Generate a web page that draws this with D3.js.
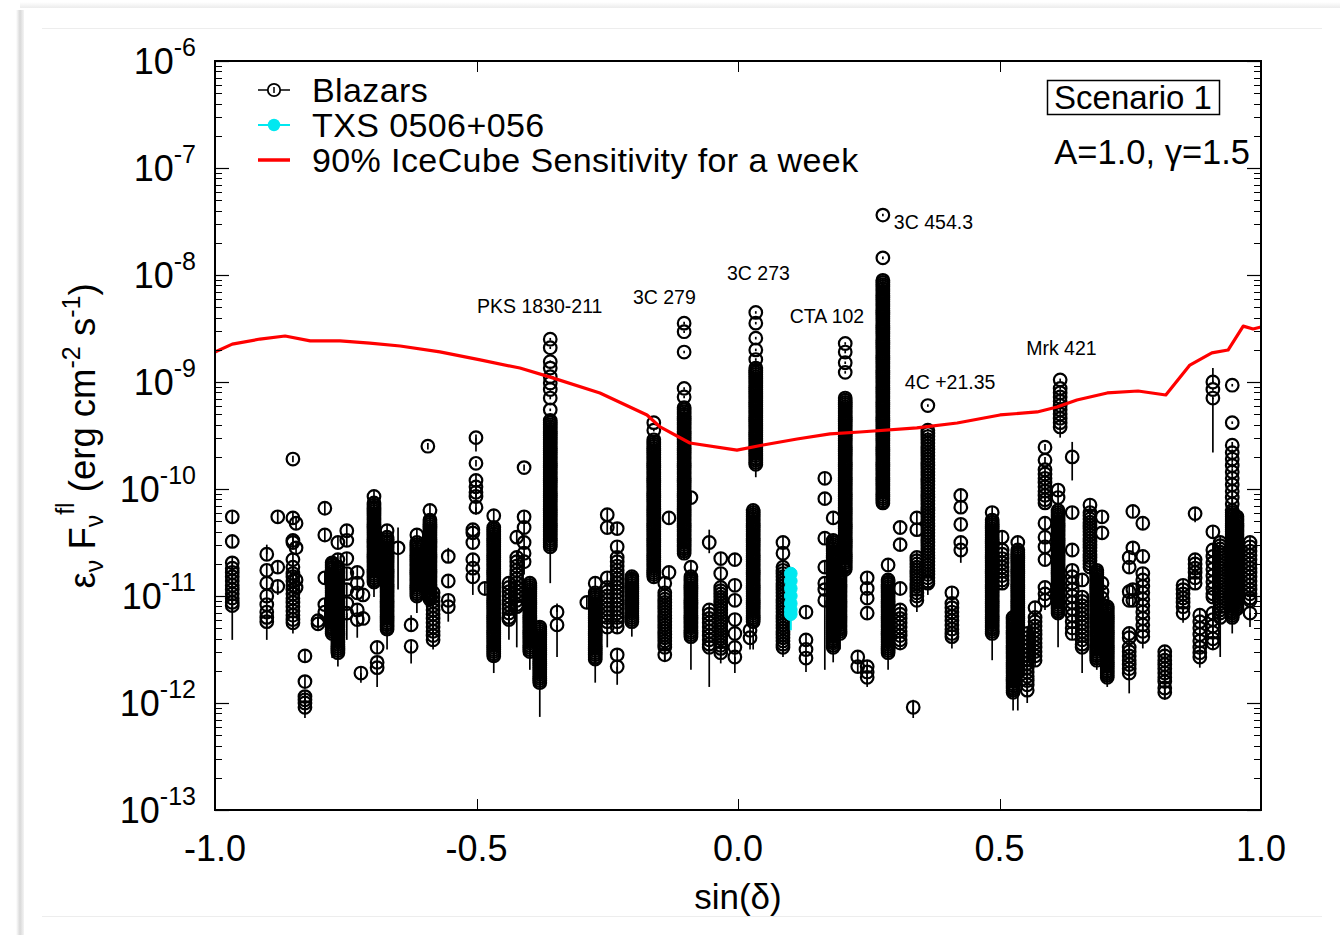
<!DOCTYPE html>
<html><head><meta charset="utf-8">
<script src="https://cdn.jsdelivr.net/npm/d3@7"></script>
<style>
body{margin:0;background:#fff}
text{font-family:"Liberation Sans",Arial,Helvetica,sans-serif;fill:#000}
</style>
</head><body><svg id="chart" width="1340" height="935"></svg>
<script>
// ---------------- DATA ----------------
// sin(declination) of each blazar column
const sinDelta = [
 -0.967,-0.901,-0.880,-0.851,-0.845,-0.828,-0.803,-0.790,-0.776,-0.765,
 -0.748,-0.728,-0.717,-0.721,-0.696,-0.690,-0.671,-0.650,-0.625,-0.614,
 -0.593,-0.589,-0.583,-0.554,-0.501,-0.507,-0.484,-0.467,-0.438,-0.423,
 -0.409,-0.398,-0.379,-0.359,-0.346,-0.289,-0.273,-0.250,-0.231,-0.203,
 -0.161,-0.140,-0.132,-0.103,-0.090,-0.055,-0.055,-0.033,-0.006, 0.023,
  0.034, 0.029, 0.086, 0.130, 0.166, 0.182, 0.205, 0.195, 0.229, 0.247,
  0.277, 0.287, 0.310, 0.342, 0.363, 0.335, 0.409, 0.426, 0.486, 0.505,
  0.526, 0.535, 0.553, 0.568, 0.587, 0.616, 0.612, 0.639, 0.639, 0.658,
  0.673, 0.686, 0.696, 0.706, 0.748, 0.755, 0.774, 0.816, 0.851, 0.874,
  0.874, 0.883, 0.908, 0.908, 0.922, 0.945, 0.954, 0.979
];
// log10 of lower end of the error bar below the faintest flare (null = none)
const errLoLog = [
 -11.41,-11.41,-10.99,-11.35,null,-12.14,null,null,-11.58,-11.66,
 -11.41,-11.39,null,-11.81,-11.01,-11.85,-11.50,-10.94,-11.63,-11.16,
 null,null,-11.50,-11.24,-10.24,-10.99,null,-11.72,-11.41,-11.48,
 -10.80,-11.69,-12.13,-10.88,-11.57,null,-11.81,-11.48,-11.83,-11.38,
 -10.88,-11.60,null,-10.66,-11.69,-10.60,-11.85,-11.63,-11.72,-11.50,
 -9.89,-11.50,-11.57,-11.71,-11.69,-11.62,-10.85,-11.50,null,-11.85,
 null,-11.69,null,-11.15,-10.99,-12.14,-11.49,-10.69,-11.60,null,
 -12.07,-12.07,-12.00,null,-11.13,-9.52,-11.48,-9.92,null,-11.72,
 null,-11.69,null,-11.85,-11.91,null,-11.49,-11.97,-11.25,-10.31,
 null,-11.67,-9.66,-11.50,-11.57,-11.35,null,-11.29
];
// log10 of upper end of the error bar above the brightest flare (null = none)
const errHiLog = [
 null,-10.52,null,null,null,null,null,null,null,null,
 null,null,null,null,null,null,null,-10.36,-11.18,null,
 null,null,null,-10.55,-9.65,null,null,null,null,null,
 null,null,null,null,-11.07,null,null,null,null,null,
 null,null,null,null,null,-10.38,null,null,null,null,
 null,null,null,null,null,null,null,null,null,null,
 null,null,null,null,null,-11.97,null,null,null,null,
 null,null,null,null,null,null,null,-9.56,null,null,
 null,null,null,null,null,null,null,null,null,null,
 null,null,-8.87,null,null,null,null,null
];
// log10 of the flare fluxes (erg cm^-2 s^-1) of each column
const logFlux = [
 /*0*/ [-10.26,-10.49,-10.69,-10.74,-10.78,-10.82,-10.86,-10.90,-10.94,-10.98,-11.02,-11.06,-11.09],
 /*1*/ [-10.61,-10.76,-10.88,-11.00,-11.08,-11.15,-11.20,-11.24],
 /*2*/ [-10.26,-10.73,-10.91],
 /*3*/ [-9.72,-10.27,-10.48,-10.50,-10.66,-10.73,-10.79,-10.82,-10.86,-10.90,-10.94,-10.98,-11.02,-11.06,-11.10,-11.14,-11.18,-11.22,-11.25],
 /*4*/ [-10.32,-10.55,-10.85,-10.92],
 /*5*/ [-11.56,-11.80,-11.94,-11.97,-12.00,-12.04],
 /*6*/ [-11.23,-11.26],
 /*7*/ [-10.18,-10.43,-10.83,-11.08,-11.15],
 /*8*/ [-10.69,-10.71,-10.73,-10.75,-10.77,-10.79,-10.81,-10.83,-10.85,-10.87,-10.89,-10.91,-10.93,-10.95,-10.97,-10.99,-11.01,-11.03,-11.05,-11.07,-11.09,-11.11,-11.13,-11.15,-11.17,-11.19,-11.21,-11.23,-11.25,-11.27,-11.29,-11.31,-11.33,-11.35],
 /*9*/ [-10.50,-10.66,-10.73,-10.75,-10.77,-10.79,-10.81,-10.83,-10.85,-10.87,-10.89,-10.91,-10.93,-10.95,-10.97,-10.99,-11.01,-11.03,-11.05,-11.07,-11.09,-11.11,-11.13,-11.15,-11.17,-11.19,-11.21,-11.23,-11.25,-11.27,-11.29,-11.31,-11.33,-11.35,-11.37,-11.39,-11.41,-11.43,-11.45,-11.47,-11.49,-11.51,-11.53],
 /*10*/ [-10.39,-10.48,-10.65,-10.79,-10.94,-11.07,-11.16],
 /*11*/ [-10.78,-10.88,-10.97,-11.13,-11.22],
 /*12*/ [-10.99,-11.21],
 /*13*/ [-11.72],
 /*14*/ [-10.07,-10.13,-10.15,-10.17,-10.19,-10.21,-10.23,-10.25,-10.27,-10.29,-10.31,-10.33,-10.35,-10.37,-10.39,-10.41,-10.43,-10.45,-10.47,-10.49,-10.51,-10.53,-10.55,-10.57,-10.59,-10.61,-10.63,-10.65,-10.67,-10.69,-10.71,-10.73,-10.75,-10.77,-10.79,-10.81,-10.83,-10.85,-10.87],
 /*15*/ [-11.48,-11.62,-11.67],
 /*16*/ [-10.39,-10.45,-10.47,-10.49,-10.51,-10.53,-10.55,-10.57,-10.59,-10.61,-10.63,-10.65,-10.67,-10.69,-10.71,-10.73,-10.75,-10.77,-10.79,-10.81,-10.83,-10.85,-10.87,-10.89,-10.91,-10.93,-10.95,-10.97,-10.99,-11.01,-11.03,-11.05,-11.07,-11.09,-11.11,-11.13,-11.15,-11.17,-11.19,-11.21,-11.23,-11.25,-11.27,-11.29,-11.31],
 /*17*/ [-10.55],
 /*18*/ [-11.27,-11.47],
 /*19*/ [-10.43,-10.50,-10.52,-10.54,-10.56,-10.58,-10.60,-10.62,-10.64,-10.66,-10.68,-10.70,-10.72,-10.74,-10.76,-10.78,-10.80,-10.82,-10.84,-10.86,-10.88,-10.90,-10.92,-10.94,-10.96,-10.98,-11.00],
 /*20*/ [-9.60],
 /*21*/ [-10.20,-10.29,-10.31,-10.33,-10.35,-10.37,-10.39,-10.41,-10.43,-10.45,-10.47,-10.49,-10.51,-10.53,-10.55,-10.57,-10.59,-10.61,-10.63,-10.65,-10.67,-10.69,-10.71,-10.73,-10.75,-10.77,-10.79,-10.81,-10.83,-10.85,-10.87,-10.89,-10.91,-10.93,-10.95,-10.97,-10.99,-11.01,-11.03],
 /*22*/ [-10.97,-11.01,-11.05,-11.09,-11.13,-11.17,-11.21,-11.25,-11.29,-11.33,-11.37,-11.41],
 /*23*/ [-10.63,-10.86,-11.04,-11.10],
 /*24*/ [-9.52,-9.76,-9.92,-9.98,-10.03,-10.07,-10.17],
 /*25*/ [-10.38,-10.41,-10.50,-10.66,-10.74,-10.82],
 /*26*/ [-10.93],
 /*27*/ [-10.25,-10.36,-10.38,-10.40,-10.42,-10.44,-10.46,-10.48,-10.50,-10.52,-10.54,-10.56,-10.58,-10.60,-10.62,-10.64,-10.66,-10.68,-10.70,-10.72,-10.74,-10.76,-10.78,-10.80,-10.82,-10.84,-10.86,-10.88,-10.90,-10.92,-10.94,-10.96,-10.98,-11.00,-11.02,-11.04,-11.06,-11.08,-11.10,-11.12,-11.14,-11.16,-11.18,-11.20,-11.22,-11.24,-11.26,-11.28,-11.30,-11.32,-11.34,-11.36,-11.38,-11.40,-11.42,-11.44,-11.46,-11.48,-11.50,-11.52,-11.54,-11.56],
 /*28*/ [-10.88,-10.92,-10.96,-11.00,-11.04,-11.08,-11.12,-11.16,-11.20,-11.22],
 /*29*/ [-10.45,-10.64,-10.68,-10.72,-10.76,-10.80,-10.84,-10.88,-10.92,-10.96,-11.00,-11.04,-11.08,-11.10],
 /*30*/ [-9.80,-10.26,-10.36,-10.50,-10.60,-10.68],
 /*31*/ [-10.88,-10.90,-10.92,-10.94,-10.96,-10.98,-11.00,-11.02,-11.04,-11.06,-11.08,-11.10,-11.12,-11.14,-11.16,-11.18,-11.20,-11.22,-11.24,-11.26,-11.28,-11.30,-11.32,-11.34,-11.36,-11.38,-11.40,-11.42,-11.44,-11.46,-11.48,-11.50,-11.52],
 /*32*/ [-11.29,-11.31,-11.33,-11.35,-11.37,-11.39,-11.41,-11.43,-11.45,-11.47,-11.49,-11.51,-11.53,-11.55,-11.57,-11.59,-11.61,-11.63,-11.65,-11.67,-11.69,-11.71,-11.73,-11.75,-11.77,-11.79,-11.81],
 /*33 PKS 1830-211*/ [-8.60,-8.68,-8.81,-8.87,-8.95,-9.01,-9.07,-9.15,-9.26,-9.36,-9.38,-9.40,-9.42,-9.44,-9.46,-9.48,-9.50,-9.52,-9.54,-9.56,-9.58,-9.60,-9.62,-9.64,-9.66,-9.68,-9.70,-9.72,-9.74,-9.76,-9.78,-9.80,-9.82,-9.84,-9.86,-9.88,-9.90,-9.92,-9.94,-9.96,-9.98,-10.00,-10.02,-10.04,-10.06,-10.08,-10.10,-10.12,-10.14,-10.16,-10.18,-10.20,-10.22,-10.24,-10.26,-10.28,-10.30,-10.32,-10.34,-10.36,-10.38,-10.40,-10.42,-10.44,-10.46,-10.48,-10.50,-10.52,-10.54],
 /*34*/ [-11.15,-11.27],
 /*35*/ [-11.06],
 /*36*/ [-10.88,-10.97,-10.99,-11.01,-11.03,-11.05,-11.07,-11.09,-11.11,-11.13,-11.15,-11.17,-11.19,-11.21,-11.23,-11.25,-11.27,-11.29,-11.31,-11.33,-11.35,-11.37,-11.39,-11.41,-11.43,-11.45,-11.47,-11.49,-11.51,-11.53,-11.55,-11.57,-11.59],
 /*37*/ [-10.24,-10.36,-10.83,-10.92,-10.96,-11.00,-11.04,-11.08,-11.12,-11.16,-11.20,-11.24,-11.29],
 /*38*/ [-10.37,-10.54,-10.64,-10.68,-10.72,-10.76,-10.80,-10.84,-10.88,-10.92,-10.96,-11.00,-11.04,-11.08,-11.12,-11.16,-11.20,-11.24,-11.29,-11.55,-11.66],
 /*39*/ [-10.82,-10.84,-10.86,-10.88,-10.90,-10.92,-10.94,-10.96,-10.98,-11.00,-11.02,-11.04,-11.06,-11.08,-11.10,-11.12,-11.14,-11.16,-11.18,-11.20,-11.22,-11.24],
 /*40*/ [-9.38,-9.45,-9.54,-9.56,-9.58,-9.60,-9.62,-9.64,-9.66,-9.68,-9.70,-9.72,-9.74,-9.76,-9.78,-9.80,-9.82,-9.84,-9.86,-9.88,-9.90,-9.92,-9.94,-9.96,-9.98,-10.00,-10.02,-10.04,-10.06,-10.08,-10.10,-10.12,-10.14,-10.16,-10.18,-10.20,-10.22,-10.24,-10.26,-10.28,-10.30,-10.32,-10.34,-10.36,-10.38,-10.40,-10.42,-10.44,-10.46,-10.48,-10.50,-10.52,-10.54,-10.56,-10.58,-10.60,-10.62,-10.64,-10.66,-10.68,-10.70,-10.72,-10.74,-10.76,-10.78,-10.80,-10.82],
 /*41*/ [-10.88,-10.97,-11.00,-11.03,-11.06,-11.09,-11.12,-11.15,-11.18,-11.21,-11.24,-11.27,-11.30,-11.33,-11.36,-11.39,-11.42,-11.45,-11.48,-11.55],
 /*42*/ [-10.27,-10.78],
 /*43 3C 279*/ [-8.45,-8.53,-8.72,-9.06,-9.14,-9.24,-9.26,-9.28,-9.30,-9.32,-9.34,-9.36,-9.38,-9.40,-9.42,-9.44,-9.46,-9.48,-9.50,-9.52,-9.54,-9.56,-9.58,-9.60,-9.62,-9.64,-9.66,-9.68,-9.70,-9.72,-9.74,-9.76,-9.78,-9.80,-9.82,-9.84,-9.86,-9.88,-9.90,-9.92,-9.94,-9.96,-9.98,-10.00,-10.02,-10.04,-10.06,-10.08,-10.10,-10.12,-10.14,-10.16,-10.18,-10.20,-10.22,-10.24,-10.26,-10.28,-10.30,-10.32,-10.34,-10.36,-10.38,-10.40,-10.42,-10.44,-10.46,-10.48,-10.50,-10.52,-10.54,-10.56,-10.58,-10.60],
 /*44*/ [-10.08,-10.73,-10.82,-10.84,-10.86,-10.88,-10.90,-10.92,-10.94,-10.96,-10.98,-11.00,-11.02,-11.04,-11.06,-11.08,-11.10,-11.12,-11.14,-11.16,-11.18,-11.20,-11.22,-11.24,-11.26,-11.28,-11.30,-11.32,-11.34,-11.36,-11.38],
 /*45*/ [-10.50],
 /*46*/ [-11.13,-11.17,-11.21,-11.25,-11.29,-11.33,-11.37,-11.41,-11.45,-11.48],
 /*47*/ [-10.65,-10.79,-10.92,-10.95,-10.98,-11.01,-11.04,-11.07,-11.10,-11.13,-11.16,-11.19,-11.22,-11.25,-11.28,-11.31,-11.34,-11.37,-11.40,-11.43,-11.46,-11.49,-11.53],
 /*48*/ [-10.66,-10.90,-11.04,-11.22,-11.35,-11.48,-11.57],
 /*49*/ [-11.32,-11.39],
 /*50 3C 273*/ [-8.35,-8.45,-8.59,-8.70,-8.79,-8.87,-8.89,-8.91,-8.93,-8.95,-8.97,-8.99,-9.01,-9.03,-9.05,-9.07,-9.09,-9.11,-9.13,-9.15,-9.17,-9.19,-9.21,-9.23,-9.25,-9.27,-9.29,-9.31,-9.33,-9.35,-9.37,-9.39,-9.41,-9.43,-9.45,-9.47,-9.49,-9.51,-9.53,-9.55,-9.57,-9.59,-9.61,-9.63,-9.65,-9.67,-9.69,-9.71,-9.73,-9.75,-9.77],
 /*51*/ [-10.20,-10.22,-10.24,-10.26,-10.28,-10.30,-10.32,-10.34,-10.36,-10.38,-10.40,-10.42,-10.44,-10.46,-10.48,-10.50,-10.52,-10.54,-10.56,-10.58,-10.60,-10.62,-10.64,-10.66,-10.68,-10.70,-10.72,-10.74,-10.76,-10.78,-10.80,-10.82,-10.84,-10.86,-10.88,-10.90,-10.92,-10.94,-10.96,-10.98,-11.00,-11.02,-11.04,-11.06,-11.08,-11.10,-11.12,-11.14,-11.16,-11.18,-11.20,-11.22,-11.24],
 /*52*/ [-10.50,-10.60,-10.73,-10.76,-10.79,-10.82,-10.85,-10.88,-10.91,-10.94,-10.97,-11.00,-11.03,-11.06,-11.09,-11.12,-11.15,-11.18,-11.21,-11.24,-11.27,-11.30,-11.33,-11.36,-11.39,-11.42,-11.45,-11.48],
 /*53*/ [-11.15,-11.41,-11.50,-11.58],
 /*54*/ [-9.90,-10.09,-10.46,-10.73,-10.88,-10.94,-11.04],
 /*55*/ [-10.27,-10.48,-10.50,-10.52,-10.54,-10.56,-10.58,-10.60,-10.62,-10.64,-10.66,-10.68,-10.70,-10.72,-10.74,-10.76,-10.78,-10.80,-10.82,-10.84,-10.86,-10.88,-10.90,-10.92,-10.94,-10.96,-10.98,-11.00,-11.02,-11.04,-11.06,-11.08,-11.10,-11.12,-11.14,-11.16,-11.18,-11.20,-11.22,-11.24,-11.26,-11.28,-11.30,-11.32,-11.34,-11.36,-11.38,-11.40,-11.42,-11.44,-11.46,-11.48],
 /*56 CTA 102*/ [-8.64,-8.72,-8.82,-8.91,-9.15,-9.17,-9.19,-9.21,-9.23,-9.25,-9.27,-9.29,-9.31,-9.33,-9.35,-9.37,-9.39,-9.41,-9.43,-9.45,-9.47,-9.49,-9.51,-9.53,-9.55,-9.57,-9.59,-9.61,-9.63,-9.65,-9.67,-9.69,-9.71,-9.73,-9.75,-9.77,-9.79,-9.81,-9.83,-9.85,-9.87,-9.89,-9.91,-9.93,-9.95,-9.97,-9.99,-10.01,-10.03,-10.05,-10.07,-10.09,-10.11,-10.13,-10.15,-10.17,-10.19,-10.21,-10.23,-10.25,-10.27,-10.29,-10.31,-10.33,-10.35,-10.37,-10.39,-10.41,-10.43,-10.45,-10.47,-10.49,-10.51,-10.53,-10.55,-10.57,-10.59,-10.61,-10.63,-10.65,-10.67,-10.69,-10.71,-10.73,-10.75],
 /*57*/ [-10.79,-10.81,-10.83,-10.85,-10.87,-10.89,-10.91,-10.93,-10.95,-10.97,-10.99,-11.01,-11.03,-11.05,-11.07,-11.09,-11.11,-11.13,-11.15,-11.17,-11.19,-11.21,-11.23,-11.25,-11.27,-11.29,-11.31,-11.33,-11.35],
 /*58*/ [-11.57,-11.66],
 /*59*/ [-10.83,-10.93,-11.02,-11.16,-11.66,-11.71,-11.76],
 /*60 3C 454.3*/ [-7.44,-7.84,-8.05,-8.07,-8.09,-8.11,-8.13,-8.15,-8.17,-8.19,-8.21,-8.23,-8.25,-8.27,-8.29,-8.31,-8.33,-8.35,-8.37,-8.39,-8.41,-8.43,-8.45,-8.47,-8.49,-8.51,-8.53,-8.55,-8.57,-8.59,-8.61,-8.63,-8.65,-8.67,-8.69,-8.71,-8.73,-8.75,-8.77,-8.79,-8.81,-8.83,-8.85,-8.87,-8.89,-8.91,-8.93,-8.95,-8.97,-8.99,-9.01,-9.03,-9.05,-9.07,-9.09,-9.11,-9.13,-9.15,-9.17,-9.19,-9.21,-9.23,-9.25,-9.27,-9.29,-9.31,-9.33,-9.35,-9.37,-9.39,-9.41,-9.43,-9.45,-9.47,-9.49,-9.51,-9.53,-9.55,-9.57,-9.59,-9.61,-9.63,-9.65,-9.67,-9.69,-9.71,-9.73,-9.75,-9.77,-9.79,-9.81,-9.83,-9.85,-9.87,-9.89,-9.91,-9.93,-9.95,-9.97,-9.99,-10.01,-10.03,-10.05,-10.07,-10.09,-10.11,-10.13],
 /*61*/ [-10.71,-10.85,-10.87,-10.89,-10.91,-10.93,-10.95,-10.97,-10.99,-11.01,-11.03,-11.05,-11.07,-11.09,-11.11,-11.13,-11.15,-11.17,-11.19,-11.21,-11.23,-11.25,-11.27,-11.29,-11.31,-11.33,-11.35,-11.37,-11.39,-11.41,-11.43,-11.45,-11.47,-11.49,-11.51,-11.53],
 /*62*/ [-10.36,-10.52,-10.93,-11.13,-11.17,-11.21,-11.25,-11.29,-11.33,-11.37,-11.41,-11.44],
 /*63*/ [-10.27,-10.38,-10.64,-10.67,-10.70,-10.73,-10.76,-10.79,-10.82,-10.85,-10.88,-10.91,-10.94,-10.97,-11.00,-11.04],
 /*64 4C +21.35*/ [-9.22,-9.45,-9.48,-9.51,-9.54,-9.57,-9.60,-9.63,-9.66,-9.69,-9.72,-9.75,-9.78,-9.81,-9.84,-9.87,-9.90,-9.93,-9.96,-9.99,-10.02,-10.05,-10.08,-10.11,-10.14,-10.17,-10.20,-10.23,-10.26,-10.29,-10.32,-10.35,-10.38,-10.41,-10.44,-10.47,-10.50,-10.53,-10.56,-10.59,-10.62,-10.65,-10.68,-10.71,-10.74,-10.77,-10.80,-10.83,-10.86,-10.88],
 /*65*/ [-12.04],
 /*66*/ [-10.97,-11.07,-11.11,-11.15,-11.19,-11.23,-11.27,-11.31,-11.35,-11.38],
 /*67*/ [-10.06,-10.17,-10.33,-10.50,-10.57],
 /*68*/ [-10.22,-10.29,-10.31,-10.33,-10.35,-10.37,-10.39,-10.41,-10.43,-10.45,-10.47,-10.49,-10.51,-10.53,-10.55,-10.57,-10.59,-10.61,-10.63,-10.65,-10.67,-10.69,-10.71,-10.73,-10.75,-10.77,-10.79,-10.81,-10.83,-10.85,-10.87,-10.89,-10.91,-10.93,-10.95,-10.97,-10.99,-11.01,-11.03,-11.05,-11.07,-11.09,-11.11,-11.13,-11.15,-11.17,-11.19,-11.21,-11.23,-11.25,-11.27,-11.29,-11.31,-11.33,-11.35],
 /*69*/ [-10.45,-10.57,-10.61,-10.65,-10.69,-10.73,-10.77,-10.81,-10.85,-10.88],
 /*70*/ [-11.20,-11.22,-11.24,-11.26,-11.28,-11.30,-11.32,-11.34,-11.36,-11.38,-11.40,-11.42,-11.44,-11.46,-11.48,-11.50,-11.52,-11.54,-11.56,-11.58,-11.60,-11.62,-11.64,-11.66,-11.68,-11.70,-11.72,-11.74,-11.76,-11.78,-11.80,-11.82,-11.84,-11.86,-11.88,-11.90],
 /*71*/ [-10.50,-10.57,-10.59,-10.61,-10.63,-10.65,-10.67,-10.69,-10.71,-10.73,-10.75,-10.77,-10.79,-10.81,-10.83,-10.85,-10.87,-10.89,-10.91,-10.93,-10.95,-10.97,-10.99,-11.01,-11.03,-11.05,-11.07,-11.09,-11.11,-11.13,-11.15,-11.17,-11.19,-11.21,-11.23,-11.25,-11.27,-11.29,-11.31,-11.33,-11.35,-11.37,-11.39,-11.41,-11.43,-11.45,-11.47,-11.49,-11.51,-11.53,-11.55,-11.57,-11.59,-11.61,-11.63,-11.65,-11.67,-11.69,-11.71],
 /*72*/ [-11.35,-11.39,-11.43,-11.47,-11.51,-11.55,-11.59,-11.63,-11.67,-11.71,-11.75,-11.79,-11.83,-11.88],
 /*73*/ [-11.11,-11.20,-11.24,-11.28,-11.32,-11.36,-11.40,-11.44,-11.48,-11.52,-11.56,-11.60],
 /*74*/ [-9.61,-9.73,-9.82,-9.86,-9.90,-9.94,-9.98,-10.02,-10.06,-10.10,-10.13,-10.32,-10.45,-10.54,-10.66,-10.92,-10.98,-11.04],
 /*75 Mrk 421*/ [-8.98,-9.06,-9.10,-9.14,-9.18,-9.22,-9.26,-9.30,-9.34,-9.38,-9.42],
 /*76*/ [-10.01,-10.08,-10.20,-10.22,-10.24,-10.26,-10.28,-10.30,-10.32,-10.34,-10.36,-10.38,-10.40,-10.42,-10.44,-10.46,-10.48,-10.50,-10.52,-10.54,-10.56,-10.58,-10.60,-10.62,-10.64,-10.66,-10.68,-10.70,-10.72,-10.74,-10.76,-10.78,-10.80,-10.82,-10.84,-10.86,-10.88,-10.90,-10.92,-10.94,-10.96,-10.98,-11.00,-11.02,-11.04,-11.06,-11.08,-11.10,-11.12,-11.14,-11.16],
 /*77*/ [-9.70],
 /*78*/ [-10.22,-10.57,-10.76,-10.82,-10.88,-10.94,-11.00,-11.06,-11.12,-11.18,-11.24,-11.30,-11.35],
 /*79*/ [-10.85,-11.01,-11.05,-11.09,-11.13,-11.17,-11.21,-11.25,-11.29,-11.33,-11.37,-11.41,-11.45,-11.48],
 /*80*/ [-10.15,-10.22,-10.25,-10.28,-10.31,-10.34,-10.37,-10.40,-10.43,-10.46,-10.49,-10.52,-10.55,-10.58,-10.61,-10.64,-10.67,-10.70,-10.73],
 /*81*/ [-10.76,-10.78,-10.80,-10.82,-10.84,-10.86,-10.88,-10.90,-10.92,-10.94,-10.96,-10.98,-11.00,-11.02,-11.04,-11.06,-11.08,-11.10,-11.12,-11.14,-11.16,-11.18,-11.20,-11.22,-11.24,-11.26,-11.28,-11.30,-11.32,-11.34,-11.36,-11.38,-11.40,-11.42,-11.44,-11.46,-11.48,-11.50,-11.52,-11.54,-11.56,-11.58,-11.60],
 /*82*/ [-10.26,-10.41,-10.88,-10.96,-11.02,-11.08,-11.14,-11.20,-11.26,-11.32,-11.38,-11.44,-11.50],
 /*83*/ [-11.10,-11.12,-11.14,-11.16,-11.18,-11.20,-11.22,-11.24,-11.26,-11.28,-11.30,-11.32,-11.34,-11.36,-11.38,-11.40,-11.42,-11.44,-11.46,-11.48,-11.50,-11.52,-11.54,-11.56,-11.58,-11.60,-11.62,-11.64,-11.66,-11.68,-11.70,-11.72,-11.74,-11.76],
 /*84*/ [-10.64,-10.73,-10.96,-11.04,-11.35,-11.39,-11.48,-11.52,-11.56,-11.60,-11.64,-11.68,-11.72],
 /*85*/ [-10.21,-10.55,-10.94,-11.04],
 /*86*/ [-10.32,-10.63,-10.79,-10.85,-10.91,-10.97,-11.03,-11.09,-11.15,-11.21,-11.27,-11.33,-11.38],
 /*87*/ [-11.52,-11.56,-11.60,-11.64,-11.68,-11.72,-11.76,-11.80,-11.86,-11.90],
 /*88*/ [-10.90,-10.94,-10.98,-11.02,-11.06,-11.10,-11.16],
 /*89*/ [-10.23],
 /*90*/ [-10.66,-10.70,-10.74,-10.78,-10.83,-10.88],
 /*91*/ [-11.18,-11.24,-11.30,-11.36,-11.42,-11.48,-11.53,-11.57],
 /*92*/ [-9.00,-9.07,-9.15],
 /*93*/ [-10.40,-10.57,-10.63,-10.69,-10.75,-10.81,-10.87,-10.93,-10.98,-11.01,-11.16,-11.22,-11.28,-11.34,-11.40,-11.44],
 /*94*/ [-10.50,-10.53,-10.56,-10.59,-10.62,-10.65,-10.68,-10.71,-10.74,-10.77,-10.80,-10.83,-10.86,-10.89,-10.92,-10.95,-10.98,-11.01,-11.04,-11.07,-11.10,-11.13,-11.16,-11.20],
 /*95*/ [-9.03,-9.38,-9.59,-9.66,-9.72,-9.78,-9.84,-9.90,-9.96,-10.02,-10.08,-10.14,-10.20,-10.22,-10.24,-10.26,-10.28,-10.30,-10.32,-10.34,-10.36,-10.38,-10.40,-10.42,-10.44,-10.46,-10.48,-10.50,-10.52,-10.54,-10.56,-10.58,-10.60,-10.62,-10.64,-10.66,-10.68,-10.70,-10.72,-10.74,-10.76,-10.78,-10.80,-10.82,-10.84,-10.86,-10.88,-10.90,-10.92,-10.94,-10.96,-10.98,-11.00,-11.02,-11.04,-11.06,-11.08,-11.10,-11.12,-11.14,-11.16,-11.18,-11.20],
 /*96*/ [-10.26,-10.28,-10.30,-10.32,-10.34,-10.36,-10.38,-10.40,-10.42,-10.44,-10.46,-10.48,-10.50,-10.52,-10.54,-10.56,-10.58,-10.60,-10.62,-10.64,-10.66,-10.68,-10.70,-10.72,-10.74,-10.76,-10.78,-10.80,-10.82,-10.84,-10.86,-10.88,-10.90,-10.92,-10.94,-10.96,-10.98,-11.00,-11.02,-11.04,-11.06,-11.08,-11.10,-11.12],
 /*97*/ [-10.50,-10.54,-10.58,-10.62,-10.66,-10.70,-10.74,-10.78,-10.82,-10.86,-10.90,-10.94,-10.98,-11.02,-11.04,-11.16]
];
// TXS 0506+056
const txsSinDelta = 0.101;
const txsLogFlux = [-10.79,-10.86,-10.93,-11.00,-11.07,-11.13,-11.17];
const txsErrLoLog = -11.32;
// 90% IceCube sensitivity for a week
const sensSin = [-1.0,-0.967,-0.914,-0.866,-0.818,-0.761,-0.704,-0.646,-0.570,-0.493,-0.417,-0.359,-0.264,-0.174,-0.149,-0.092,-0.002,0.048,0.113,0.176,0.233,0.342,0.419,0.501,0.572,0.610,0.648,0.706,0.765,0.818,0.864,0.906,0.937,0.966,0.985,1.0];
const sensFlux = [1.91e-9,2.26e-9,2.52e-9,2.69e-9,2.42e-9,2.42e-9,2.31e-9,2.17e-9,1.91e-9,1.61e-9,1.35e-9,1.11e-9,7.9e-10,4.92e-10,3.80e-10,2.69e-10,2.31e-10,2.58e-10,2.93e-10,3.27e-10,3.41e-10,3.72e-10,4.14e-10,4.92e-10,5.25e-10,5.84e-10,6.79e-10,7.9e-10,8.24e-10,7.56e-10,1.44e-9,1.87e-9,1.99e-9,3.33e-9,3.13e-9,3.27e-9];
// source name labels
const labelText = ["PKS 1830-211","3C 279","3C 273","CTA 102","3C 454.3","4C +21.35","Mrk 421"];
const labelSin  = [-0.499,-0.201,-0.021,0.099,0.298,0.319,0.551];
const labelFlux = [4.41e-9,5.36e-9,8.98e-9,3.56e-9,2.69e-8,8.61e-10,1.79e-9];
// axes
const yTickExp = [-13,-12,-11,-10,-9,-8,-7,-6];
const xTickVals = [-1.0,-0.5,0.0,0.5,1.0];
const legendText = ["Blazars","TXS 0506+056","90% IceCube Sensitivity for a week"];

// ---------------- DRAW ----------------
const svg = d3.select('#chart');
const W = 1340, H = 935;
const M = {l:215, r:1261, t:61, b:810};
const x = d3.scaleLinear().domain([-1,1]).range([M.l, M.r]);
const y = d3.scaleLog().domain([1e-13,1e-6]).range([M.b, M.t]);
const F = v => Math.pow(10, v);

// page decoration (document page look)
svg.append('rect').attr('x',0).attr('y',0).attr('width',W).attr('height',H).attr('fill','#fff');
const defs = svg.append('defs');
const lg = defs.append('linearGradient').attr('id','shL');
lg.append('stop').attr('offset','0').attr('stop-color','#ffffff');
lg.append('stop').attr('offset','0.5').attr('stop-color','#d8d8d8');
lg.append('stop').attr('offset','1').attr('stop-color','#f4f4f4');
svg.append('rect').attr('x',16).attr('y',10).attr('width',8).attr('height',H-10).attr('fill','url(#shL)');
const tg = defs.append('linearGradient').attr('id','shT').attr('x1',0).attr('x2',0).attr('y1',0).attr('y2',1);
tg.append('stop').attr('offset','0').attr('stop-color','#ffffff');
tg.append('stop').attr('offset','1').attr('stop-color','#ececec');
svg.append('rect').attr('x',20).attr('y',2).attr('width',W-20).attr('height',6).attr('fill','url(#shT)');
svg.append('line').attr('x1',42).attr('x2',1322).attr('y1',28.5).attr('y2',28.5).attr('stroke','#ededed');
svg.append('line').attr('x1',42).attr('x2',1322).attr('y1',916.5).attr('y2',916.5).attr('stroke','#ededed');

defs.append('clipPath').attr('id','clip').append('rect')
  .attr('x',M.l).attr('y',M.t).attr('width',M.r-M.l).attr('height',M.b-M.t);
const plot = svg.append('g').attr('clip-path','url(#clip)');

// error bars
const halfLen = v => v > -9.5 ? 0.012 : (v > -9.9 ? 0.03 : 0.056);
const gErr = plot.append('g').attr('stroke','#000').attr('stroke-width',1.7);
sinDelta.forEach((s,i) => {
  const vals = logFlux[i];
  const lo = d3.min(vals), hi = d3.max(vals);
  if (errLoLog[i] !== null) gErr.append('line').attr('x1',x(s)).attr('x2',x(s)).attr('y1',y(F(lo))).attr('y2',y(F(errLoLog[i])));
  if (errHiLog[i] !== null) gErr.append('line').attr('x1',x(s)).attr('x2',x(s)).attr('y1',y(F(hi))).attr('y2',y(F(errHiLog[i])));
  vals.forEach(v => {
    const h = halfLen(v);
    gErr.append('line').attr('x1',x(s)).attr('x2',x(s)).attr('y1',y(F(v-h))).attr('y2',y(F(v+h)));
  });
});
// blazar markers
const pts = sinDelta.flatMap((s,i) => logFlux[i].map(v => ({s, v})));
plot.append('g').selectAll('circle').data(pts).join('circle')
  .attr('cx', d => x(d.s)).attr('cy', d => y(F(d.v))).attr('r', 6.3)
  .attr('fill','none').attr('stroke','#000').attr('stroke-width',2.2);

// TXS
const cyan = '#00e8f0';
plot.append('line').attr('x1',x(txsSinDelta)).attr('x2',x(txsSinDelta))
  .attr('y1',y(F(d3.max(txsLogFlux)))).attr('y2',y(F(txsErrLoLog))).attr('stroke',cyan).attr('stroke-width',2);
plot.append('g').selectAll('circle').data(txsLogFlux).join('circle')
  .attr('cx', x(txsSinDelta)).attr('cy', d => y(F(d))).attr('r', 6.3).attr('fill',cyan).attr('stroke',cyan).attr('stroke-width',1);

// sensitivity curve
plot.append('path').datum(d3.zip(sensSin, sensFlux))
  .attr('d', d3.line().x(d => x(d[0])).y(d => y(d[1])))
  .attr('fill','none').attr('stroke','#ff0000').attr('stroke-width',3.2).attr('stroke-linejoin','round');

// source labels
svg.append('g').selectAll('text').data(labelText).join('text')
  .attr('x', (d,i) => x(labelSin[i])).attr('y', (d,i) => y(labelFlux[i]))
  .attr('font-size', 19.5).text(d => d);

// frame and ticks
const ax = svg.append('g').attr('stroke','#000');
const minor = [];
yTickExp.slice(0,-1).forEach(e => { for (let k=2;k<=9;k++) minor.push(k*F(e)); });
yTickExp.forEach(e => {
  const yy = Math.round(y(F(e)))+0.5;
  ax.append('line').attr('x1',M.l).attr('x2',M.l+14).attr('y1',yy).attr('y2',yy).attr('stroke-width',1.2);
  ax.append('line').attr('x1',M.r).attr('x2',M.r-14).attr('y1',yy).attr('y2',yy).attr('stroke-width',1.2);
});
minor.forEach(v => {
  const yy = Math.round(y(v))+0.5;
  ax.append('line').attr('x1',M.l).attr('x2',M.l+7).attr('y1',yy).attr('y2',yy).attr('stroke-width',1);
  ax.append('line').attr('x1',M.r).attr('x2',M.r-7).attr('y1',yy).attr('y2',yy).attr('stroke-width',1);
});
xTickVals.forEach(v => {
  const xx = Math.round(x(v))+0.5;
  ax.append('line').attr('x1',xx).attr('x2',xx).attr('y1',M.b).attr('y2',M.b-11).attr('stroke-width',1);
  ax.append('line').attr('x1',xx).attr('x2',xx).attr('y1',M.t).attr('y2',M.t+11).attr('stroke-width',1);
});
ax.append('rect').attr('x',M.l).attr('y',M.t).attr('width',M.r-M.l).attr('height',M.b-M.t)
  .attr('fill','none').attr('stroke-width',2);

// y tick labels
yTickExp.forEach(e => {
  const t = svg.append('text').attr('x',196).attr('y', y(F(e))+13).attr('text-anchor','end');
  t.append('tspan').attr('font-size',36).text('10');
  t.append('tspan').attr('font-size',25).attr('dy',-18).text(String(e));
});
// x tick labels
xTickVals.forEach(v => {
  svg.append('text').attr('x', x(v)).attr('y', 861).attr('text-anchor','middle')
    .attr('font-size',36).text(v.toFixed(1));
});
svg.append('text').attr('x', x(0)).attr('y', 909).attr('text-anchor','middle').attr('font-size',35).text('sin(δ)');

// y axis title
const yt = svg.append('text').attr('transform','translate(95,436) rotate(-90)').attr('text-anchor','middle').attr('font-size',36.5);
yt.append('tspan').text('ε');
yt.append('tspan').attr('font-size',25).attr('dy',8).text('ν');
yt.append('tspan').attr('dy',-8).text(' F');
yt.append('tspan').attr('font-size',25).attr('dy',8).text('ν');
yt.append('tspan').attr('font-size',25).attr('dy',-29).text('fl');
yt.append('tspan').attr('dy',21).text(' (erg cm');
yt.append('tspan').attr('font-size',25).attr('dy',-15).text('-2');
yt.append('tspan').attr('dy',15).text(' s');
yt.append('tspan').attr('font-size',25).attr('dy',-15).text('-1');
yt.append('tspan').attr('dy',15).text(')');

// legend
const lgd = svg.append('g');
const ly = [90,125,160];
lgd.append('line').attr('x1',258).attr('x2',290).attr('y1',ly[0]).attr('y2',ly[0]).attr('stroke','#000').attr('stroke-width',1.5);
lgd.append('circle').attr('cx',274).attr('cy',ly[0]).attr('r',6.2).attr('fill','#fff').attr('stroke','#000').attr('stroke-width',1.8);
lgd.append('line').attr('x1',274).attr('x2',274).attr('y1',ly[0]-3).attr('y2',ly[0]+3).attr('stroke','#000').attr('stroke-width',1.5);
lgd.append('line').attr('x1',258).attr('x2',290).attr('y1',ly[1]).attr('y2',ly[1]).attr('stroke',cyan).attr('stroke-width',2);
lgd.append('circle').attr('cx',274).attr('cy',ly[1]).attr('r',6.2).attr('fill',cyan);
lgd.append('line').attr('x1',258).attr('x2',290).attr('y1',ly[2]).attr('y2',ly[2]).attr('stroke','#ff0000').attr('stroke-width',3.5);
legendText.forEach((t,i) => {
  lgd.append('text').attr('x',312).attr('y',ly[i]+12).attr('font-size',34).attr('letter-spacing',0.4).text(t);
});

// scenario box
svg.append('rect').attr('x',1047.5).attr('y',80.5).attr('width',172).attr('height',34).attr('fill','none').attr('stroke','#000').attr('stroke-width',1.5);
svg.append('text').attr('x',1133).attr('y',109).attr('text-anchor','middle').attr('font-size',33).text('Scenario 1');
svg.append('text').attr('x',1250).attr('y',164).attr('text-anchor','end').attr('font-size',34.5).text('A=1.0, γ=1.5');
</script></body></html>
